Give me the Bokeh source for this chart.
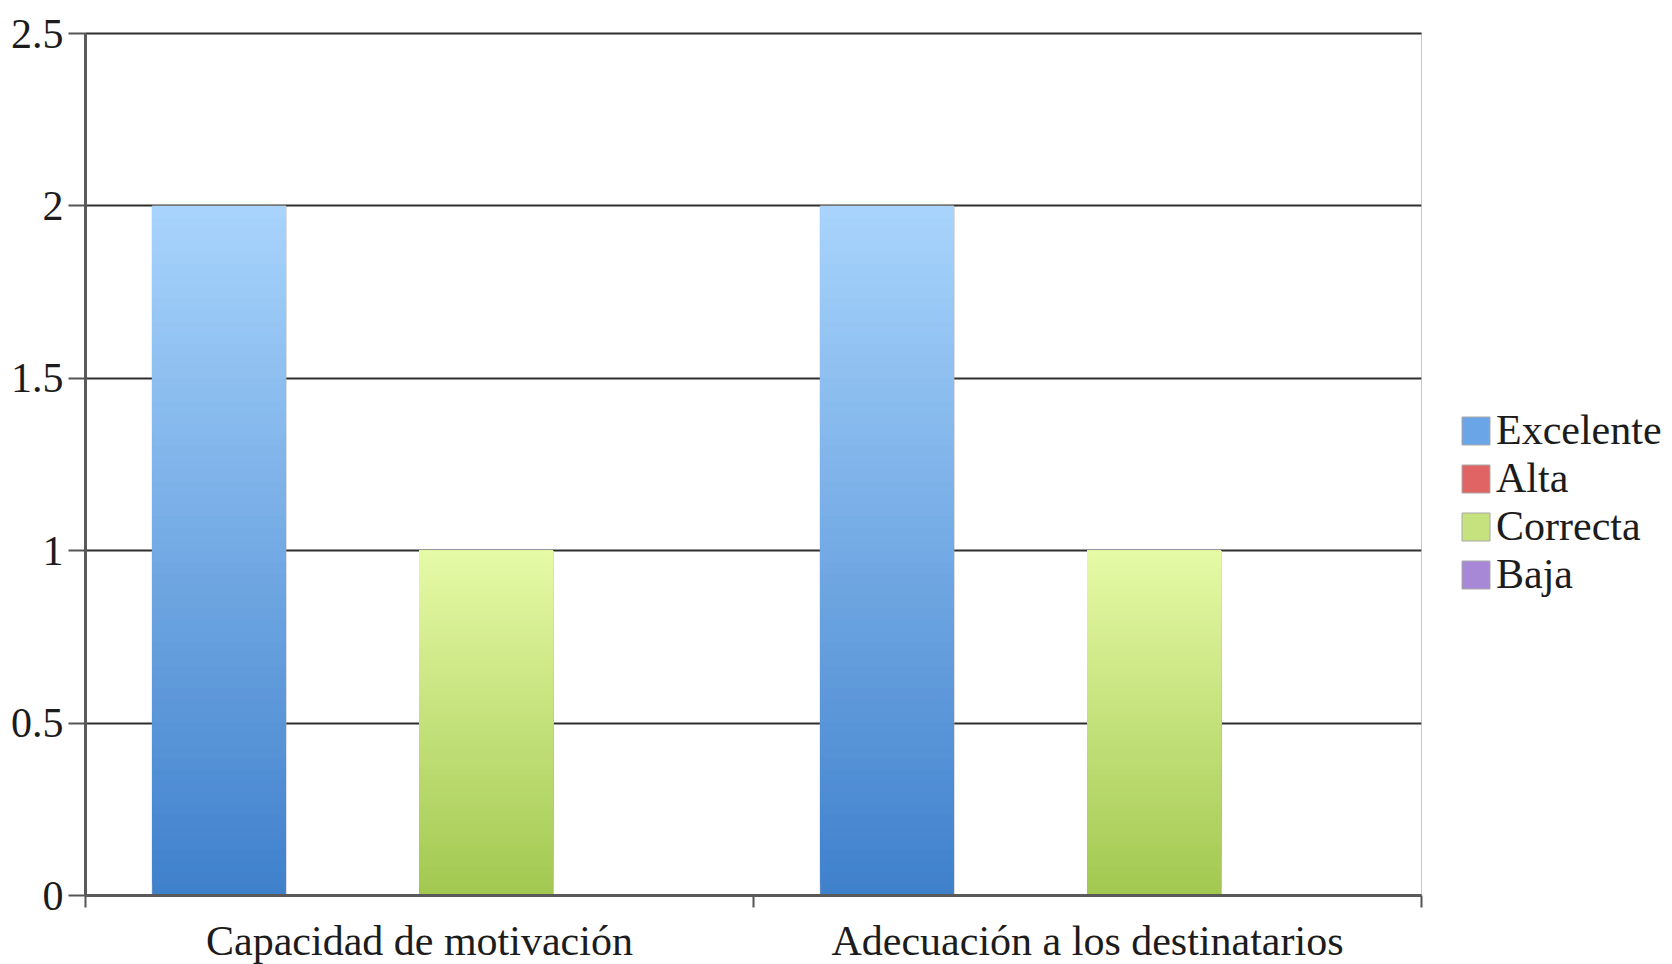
from bokeh.plotting import figure
from bokeh.models import (ColumnDataSource, FixedTicker, Legend, LegendItem, Range1d,
                          LinearAxis)
from bokeh.embed import file_html
from bokeh.resources import INLINE

# ---- data ----
categories = ["Capacidad de motivación", "Adecuación a los destinatarios"]
series = ["Excelente", "Alta", "Correcta", "Baja"]
excelente = [2, 2]
alta = [0, 0]
correcta = [1, 1]
baja = [0, 0]
y_ticks = [0, 0.5, 1, 1.5, 2, 2.5]
y_tick_labels = ["0", "0.5", "1", "1.5", "2", "2.5"]

values = {"Excelente": excelente, "Alta": alta, "Correcta": correcta, "Baja": baja}

# style: gradient bottom/top colours and legend swatch colours
grad = {
    "Excelente": ((63, 128, 204), (168, 212, 252)),
    "Alta": ((200, 60, 60), (245, 150, 150)),
    "Correcta": ((162, 200, 80), (230, 250, 166)),
    "Baja": ((140, 100, 190), (200, 175, 235)),
}
swatch = {"Excelente": "#6aa5e8", "Alta": "#e06464", "Correcta": "#c5e27e", "Baja": "#a688d6"}

FONT = "Liberation Serif"
TXT = "#1c1c1c"
N = 60
group_w = 0.8
bar_w = group_w / len(series)

p = figure(frame_width=1336, frame_height=862, output_backend="svg",
           toolbar_location=None, x_range=Range1d(0, len(categories)),
           y_range=Range1d(0, 2.5), min_border_left=85, min_border_right=251,
           min_border_top=33, min_border_bottom=69)
p.background_fill_color = "white"
p.border_fill_color = "white"
p.outline_line_color = "#c8c8c8"
p.outline_line_width = 1

xa = p.below[0]
ya = p.left[0]

# solid bars (also used for the legend swatches)
items = []
for si, s in enumerate(series):
    xs = [ci + 0.5 + (si - (len(series) - 1) / 2) * bar_w for ci in range(len(categories))]
    r = p.vbar(x=xs, top=values[s], width=bar_w, fill_color=swatch[s],
               line_color="#a8a8a8", line_width=1)
    items.append(LegendItem(label=s, renderers=[r]))

# gradient overlay on the bars
lefts, rights, bottoms, tops, colors = [], [], [], [], []
for si, s in enumerate(series):
    c0, c1 = grad[s]
    for ci, v in enumerate(values[s]):
        if v <= 0:
            continue
        center = ci + 0.5 + (si - (len(series) - 1) / 2) * bar_w
        for k in range(N):
            t = (k + 0.5) / N
            col = tuple(int(round(c0[j] + (c1[j] - c0[j]) * t)) for j in range(3))
            lefts.append(center - bar_w / 2)
            rights.append(center + bar_w / 2)
            bottoms.append(v * k / N)
            tops.append(v)
            colors.append("#%02x%02x%02x" % col)
src = ColumnDataSource(dict(left=lefts, right=rights, bottom=bottoms, top=tops, color=colors))
p.quad(left="left", right="right", bottom="bottom", top="top", fill_color="color",
       line_color=None, source=src)

# top line (at 2.5) as an axis without ticks
ta = LinearAxis(ticker=FixedTicker(ticks=[]), axis_line_color="#2e2e2e", axis_line_width=2,
                major_tick_line_color=None, minor_tick_line_color=None,
                major_tick_out=0, major_label_standoff=0)
p.add_layout(ta, "above")

legend = Legend(items=items, location=(37, 297), orientation="vertical")
legend.label_text_font = FONT
legend.label_text_font_size = "42px"
legend.label_text_color = TXT
legend.glyph_width = 35
legend.glyph_height = 35
legend.label_standoff = 3
legend.spacing = 0
legend.padding = 0
legend.margin = 0
legend.border_line_color = None
legend.background_fill_color = None
p.add_layout(legend, "right")

# grid
p.xgrid.grid_line_color = None
p.ygrid.ticker = FixedTicker(ticks=y_ticks)
p.ygrid.grid_line_color = "#2e2e2e"
p.ygrid.grid_line_width = 2

# y axis
ya.ticker = FixedTicker(ticks=y_ticks)
ya.major_label_overrides = {t: lab for t, lab in zip(y_ticks, y_tick_labels)}
ya.major_label_text_font = FONT
ya.major_label_text_font_size = "42px"
ya.major_label_text_color = TXT
ya.major_label_standoff = 5
ya.major_tick_out = 17
ya.major_tick_in = 0
ya.major_tick_line_color = "#555555"
ya.major_tick_line_width = 2
ya.minor_tick_line_color = None
ya.axis_line_color = "#5a5a5a"
ya.axis_line_width = 3

# x axis
centers = [i + 0.5 for i in range(len(categories))]
xa.ticker = FixedTicker(ticks=centers, minor_ticks=list(range(len(categories) + 1)))
xa.major_label_overrides = {c: lab for c, lab in zip(centers, categories)}
xa.major_label_text_font = FONT
xa.major_label_text_font_size = "42px"
xa.major_label_text_color = TXT
xa.major_label_standoff = 10
xa.major_tick_line_color = None
xa.major_tick_out = 12
xa.major_tick_in = 0
xa.minor_tick_out = 12
xa.minor_tick_in = 0
xa.minor_tick_line_color = "#555555"
xa.minor_tick_line_width = 2
xa.axis_line_color = "#5a5a5a"
xa.axis_line_width = 3

open("out.html", "w").write(file_html(p, INLINE))
